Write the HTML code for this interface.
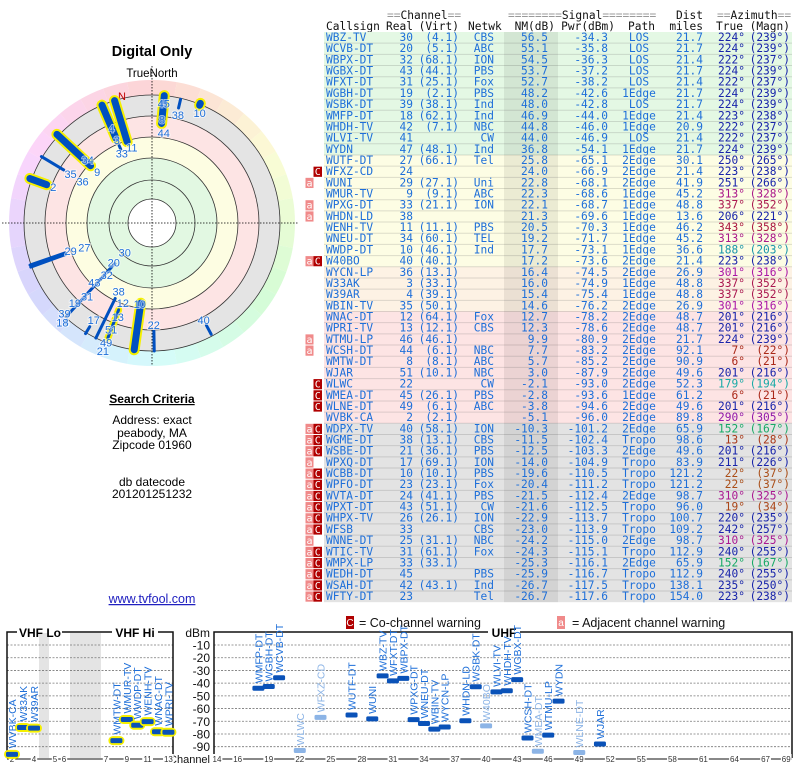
<!DOCTYPE html>
<html><head><meta charset="utf-8"><title>Digital Only - TV Fool report</title>
<style>
html,body{margin:0;padding:0;background:#fff;width:800px;height:768px;overflow:hidden}
svg{display:block}
.sans{font-family:"Liberation Sans",sans-serif}
.mono{font-family:"DejaVu Sans Mono","Liberation Mono",monospace;font-size:11.2px}
</style></head>
<body>
<svg id="root" width="800" height="768" viewBox="0 0 800 768" xmlns="http://www.w3.org/2000/svg">
  <g id="left" class="sans">
    <text x="152" y="56" text-anchor="middle" font-size="14.5" font-weight="bold">Digital Only</text>
    <text x="152" y="77" text-anchor="middle" font-size="11.5">TrueNorth</text>
    <g id="polar"></g>
    <text x="152" y="403" text-anchor="middle" font-size="12" font-weight="bold" text-decoration="underline">Search Criteria</text>
    <text x="152" y="424" text-anchor="middle" font-size="12">Address: exact</text>
    <text x="152" y="437" text-anchor="middle" font-size="12">peabody, MA</text>
    <text x="152" y="449" text-anchor="middle" font-size="12">Zipcode 01960</text>
    <text x="152" y="486" text-anchor="middle" font-size="12">db datecode</text>
    <text x="152" y="498" text-anchor="middle" font-size="12">201201251232</text>
    <text x="152" y="603" text-anchor="middle" font-size="12.5" fill="#2020c0" text-decoration="underline">www.tvfool.com</text>
  </g>
  <g id="table" class="mono"></g>
  <g id="bottom" class="sans"></g>
</svg>
<script>
// ---------- polar data ----------
const polAz   = [343, 337, 337, 313, 301, 290, 5.5, 13, 22, 250, 251, 222.5, 211, 206, 201, 188, 179, 152];
const polRin  = [85, 92, 80, 84, 103, 112, 100, 118, 127, 92, 92, 55, 121, 84, 93, 81, 108, 116];
const polRout = [128, 128, 84, 130, 129, 130, 128, 127, 129, 129, 129, 126, 129, 128, 123, 128, 128, 126];
const polThick= [1, 1, 0, 1, 0, 1, 1, 0, 1, 0, 0, 0, 0, 0, 0, 1, 0, 0];
const polHi   = [1, 1, 0, 1, 0, 1, 1, 0, 1, 0, 0, 0, 0, 0, 1, 1, 0, 0];
const polLabText = ["45","8","44","38","10","4","3","11","33","34","9","35","36","2","29","27","30","20","32","43","31","19","39","4","18","38","12","13","51","49","21","17","10","22","40"];
const polLabAz   = [5.6,5.5,7.4,13.5,23.4,336.8,337,345,336.6,314.5,313,301,301,290,251,250,223,224,221,224,221.5,224,224,221,222,206,200,200,201,201,201,211,188.6,179,152];
const polLabR    = [120,104,91,111,120,103,90,78,76,90,75,95,81,105,86,72,40,55,69,83,98,111,126,131,134,76,85,100,114,128,137,113,82,102,110];

// ---------- table data ----------
const tCall = ["WBZ-TV","WCVB-DT","WBPX-DT","WGBX-DT","WFXT-DT","WGBH-DT","WSBK-DT","WMFP-DT","WHDH-TV","WLVI-TV","WYDN","WUTF-DT","WFXZ-CD","WUNI","WMUR-TV","WPXG-DT","WHDN-LD","WENH-TV","WNEU-DT","WWDP-DT","W40BO","WYCN-LP","W33AK","W39AR","WBIN-TV","WNAC-DT","WPRI-TV","WTMU-LP","WCSH-DT","WMTW-DT","WJAR","WLWC","WMEA-DT","WLNE-DT","WVBK-CA","WDPX-TV","WGME-DT","WSBE-DT","WPXQ-DT","WCBB-DT","WPFO-DT","WVTA-DT","WPXT-DT","WHPX-TV","WFSB","WNNE-DT","WTIC-TV","WMPX-LP","WEDH-DT","WSAH-DT","WFTY-DT"];
const tReal = ["30","20","32","43","31","19","39","18","42","41","47","27","24","29","9","33","38","11","34","10","40","36","3","4","35","12","13","46","44","8","51","22","45","49","2","40","38","21","17","10","23","24","43","26","33","25","31","33","45","42","23"];
const tVirt = ["(4.1)","(5.1)","(68.1)","(44.1)","(25.1)","(2.1)","(38.1)","(62.1)","(7.1)","","(48.1)","(66.1)","","(27.1)","(9.1)","(21.1)","","(11.1)","(60.1)","(46.1)","(40.1)","(13.1)","(33.1)","(39.1)","(50.1)","(64.1)","(12.1)","(46.1)","(6.1)","(8.1)","(10.1)","","(26.1)","(6.1)","(2.1)","(58.1)","(13.1)","(36.1)","(69.1)","(10.1)","(23.1)","(41.1)","(51.1)","(26.1)","","(31.1)","(61.1)","(33.1)","","(43.1)",""];
const tNet  = ["CBS","ABC","ION","PBS","Fox","PBS","Ind","Ind","NBC","CW","Ind","Tel","","Uni","ABC","ION","","PBS","TEL","Ind","","","","","","Fox","CBS","","NBC","ABC","NBC","CW","PBS","ABC","","ION","CBS","PBS","ION","PBS","Fox","PBS","CW","ION","CBS","NBC","Fox","","PBS","Ind","Tel"];
const tNM   = ["56.5","55.1","54.5","53.7","52.7","48.2","48.0","46.9","44.8","44.0","36.8","25.8","24.0","22.8","22.3","22.1","21.3","20.5","19.2","17.7","17.2","16.4","16.0","15.4","14.6","12.7","12.3","9.9","7.7","5.7","3.0","-2.1","-2.8","-3.8","-5.1","-10.3","-11.5","-12.5","-14.0","-19.6","-20.4","-21.5","-21.6","-22.9","-23.0","-24.2","-24.3","-25.3","-25.9","-26.7","-26.7"];
const tPwr  = ["-34.3","-35.8","-36.3","-37.2","-38.2","-42.6","-42.8","-44.0","-46.0","-46.9","-54.1","-65.1","-66.9","-68.1","-68.6","-68.7","-69.6","-70.3","-71.7","-73.1","-73.6","-74.5","-74.9","-75.4","-76.2","-78.2","-78.6","-80.9","-83.2","-85.2","-87.9","-93.0","-93.6","-94.6","-96.0","-101.2","-102.4","-103.3","-104.9","-110.5","-111.2","-112.4","-112.5","-113.7","-113.9","-115.0","-115.1","-116.1","-116.7","-117.5","-117.6"];
const tPath = ["LOS","LOS","LOS","LOS","LOS","1Edge","LOS","1Edge","1Edge","LOS","1Edge","2Edge","2Edge","2Edge","1Edge","1Edge","1Edge","1Edge","1Edge","1Edge","2Edge","2Edge","1Edge","1Edge","2Edge","2Edge","2Edge","2Edge","2Edge","2Edge","2Edge","2Edge","1Edge","2Edge","2Edge","2Edge","Tropo","2Edge","Tropo","Tropo","Tropo","2Edge","Tropo","Tropo","Tropo","2Edge","Tropo","2Edge","Tropo","Tropo","Tropo"];
const tDist = ["21.7","21.7","21.4","21.7","21.4","21.7","21.7","21.4","20.9","21.4","21.7","30.1","21.4","41.9","45.2","48.8","13.6","46.2","45.2","36.6","21.4","26.9","48.8","48.8","26.9","48.7","48.7","21.7","92.1","90.9","49.6","52.3","61.2","49.6","89.8","65.9","98.6","49.6","83.9","121.2","121.2","98.7","96.0","100.7","109.2","98.7","112.9","65.9","112.9","138.1","154.0"];
const tTrue = [224,224,222,224,222,224,224,223,222,222,224,250,223,251,313,337,206,343,313,188,223,301,337,337,301,201,201,224,7,6,201,179,6,201,290,152,13,201,211,22,22,310,19,220,242,310,240,152,240,235,223];
const tWarn = ["","","","","","","","","","","","","C","a","","a","a","","","","aC","","","","","","","a","a","","","C","C","C","","aC","aC","aC","a","aC","aC","aC","aC","aC","aC","a","aC","aC","aC","aC","aC"];
const tBand = [0,0,0,0,0,0,0,0,0,0,0,1,1,1,1,1,1,1,1,1,1,2,2,2,2,3,3,3,3,3,3,3,3,3,3,4,4,4,4,4,4,4,4,4,4,4,4,4,4,4,4];

// ---------- bottom chart data ----------
const vCalls = ["WVBK-CA","W33AK","W39AR","WMTW-DT","WMUR-TV","WWDP-DT","WENH-TV","WNAC-DT","WPRI-TV"];
const vChan  = [2,3,4,8,9,10,11,12,13];
const vPwr   = [-96.0,-74.9,-75.4,-85.2,-68.6,-73.1,-70.3,-78.2,-78.6];
const uCalls = ["WMFP-DT","WGBH-DT","WCVB-DT","WLWC","WFXZ-CD","WUTF-DT","WUNI","WBZ-TV","WFXT-DT","WBPX-DT","WPXG-DT","WNEU-DT","WBIN-TV","WYCN-LP","WHDN-LD","WSBK-DT","W40BO","WLVI-TV","WHDH-TV","WGBX-DT","WCSH-DT","WMEA-DT","WTMU-LP","WYDN","WLNE-DT","WJAR"];
const uChan  = [18,19,20,22,24,27,29,30,31,32,33,34,35,36,38,39,40,41,42,43,44,45,46,47,49,51];
const uPwr   = [-44.0,-42.6,-35.8,-93.0,-66.9,-65.1,-68.1,-34.3,-38.2,-36.3,-68.7,-71.7,-76.2,-74.5,-69.6,-42.8,-73.6,-46.9,-46.0,-37.2,-83.2,-93.6,-80.9,-54.1,-94.6,-87.9];
const uFaded = [0,0,0,1,1,0,0,0,0,0,0,0,0,0,0,0,1,0,0,0,0,1,0,0,1,0];
const dbTicks = [-10,-20,-30,-40,-50,-60,-70,-80,-90];
const vTickChan = [2,4,5,6,7,9,11,13];
const uTickChan = [14,16,19,22,25,28,31,34,37,40,43,46,49,52,55,58,61,64,67,69];

const NS = "http://www.w3.org/2000/svg";
function mk(parent, tag, attrs, text){
  const e = document.createElementNS(NS, tag);
  for (const k in attrs) e.setAttribute(k, attrs[k]);
  if (text !== undefined) e.textContent = text;
  parent.appendChild(e);
  return e;
}

// ================= POLAR =================
const polar = document.getElementById('polar');
const CX = 152, CY = 223;
function pxy(az, r){ const a = az*Math.PI/180; return [CX + r*Math.sin(a), CY - r*Math.cos(a)]; }
for (let i=0;i<36;i++){
  const a0=i*10, a1=a0+10;
  const p0=pxy(a0,143), p1=pxy(a1,143), p2=pxy(a1,128), p3=pxy(a0,128);
  const seg = mk(polar,'path',{d:`M${p0[0]},${p0[1]} A143,143 0 0 1 ${p1[0]},${p1[1]} L${p2[0]},${p2[1]} A128,128 0 0 0 ${p3[0]},${p3[1]} Z`, fill:`hsl(${a0+5},85%,91%)`, stroke:'none'});
  
  
}
const bandR = [128,107,86,65,24];
const bandC = ['#e4e4e4','#fde4e4','#fdfde2','#e2f8e2','#ffffff'];
for (let i=0;i<bandR.length;i++){
  const c = mk(polar,'circle',{cx:CX,cy:CY,r:bandR[i],fill:bandC[i],stroke:'none'});
  
  
}
[128,107,86,65,43,24].forEach(r=>{
  const c = mk(polar,'circle',{cx:CX,cy:CY,r:r,fill:'none',stroke:'#333','stroke-width':0.8});
  
  
});
let ax = mk(polar,'line',{x1:2,y1:CY,x2:298,y2:CY,stroke:'#000','stroke-width':0.8,'stroke-dasharray':'1.5,1.5'});


ax = mk(polar,'line',{x1:CX,y1:66,x2:CX,y2:366,stroke:'#000','stroke-width':0.8,'stroke-dasharray':'1.5,1.5'});


const nLab = mk(polar,'text',{x:122,y:100,'text-anchor':'middle','font-size':11,fill:'#c00000'},'N');


for (let i=0;i<polAz.length;i++){
  const a = pxy(polAz[i], polRin[i]), b = pxy(polAz[i], polRout[i]);
  const w = polThick[i] ? 7 : 3;
  if (polHi[i]){
    const h = mk(polar,'line',{x1:a[0],y1:a[1],x2:b[0],y2:b[1],stroke:'#f5f000','stroke-width':w+4,'stroke-linecap':'round'});
    
    
  }
  const l = mk(polar,'line',{x1:a[0],y1:a[1],x2:b[0],y2:b[1],stroke:'#0050c0','stroke-width':w,'stroke-linecap':'round'});
  
  
}
for (let i=0;i<polLabText.length;i++){
  const p = pxy(polLabAz[i], polLabR[i]);
  const t = mk(polar,'text',{x:p[0],y:p[1]+4,'text-anchor':'middle','font-size':11,fill:'#1e6fd9',stroke:'#fff','stroke-width':2,'stroke-opacity':0.6,'paint-order':'stroke'},polLabText[i]);
  
  
}

// ================= TABLE =================
const tbl = document.getElementById('table');
const ROW0 = 32, RH = 11.18;
const bandFill = ['#e4f8e4','#fdfde4','#fdf2e4','#fde4e4','#e3e3e3'];
function hdr(x,y,parts,anchor){
  const t = mk(tbl,'text',{x:x,y:y,'text-anchor':anchor||'start',fill:'#111'});
  parts.forEach(p=>{ mk(t,'tspan',{fill:p[1]?'#999':'#111'},p[0]); });
  return t;
}
let h;
h = hdr(387,19,[["==",1],["Channel",0],["==",1]]);  
h = hdr(508,19,[["========",1],["Signal",0],["========",1]]);  
h = hdr(703,19,[["Dist",0]],'end');  
h = hdr(717,19,[["==",1],["Azimuth",0],["==",1]]);  
const h2 = [["Callsign",326,'start'],["Real",413,'end'],["(Virt)",459,'end'],["Netwk",468,'start'],["NM(dB)",555,'end'],["Pwr(dBm)",615,'end'],["Path",655,'end'],["miles",703,'end'],["True",743,'end'],["(Magn)",790,'end']];
h2.forEach(c=>{ const t = hdr(c[1],30,[[c[0],0]],c[2]);   });

for (let i=0;i<tCall.length;i++){
  const y = ROW0 + i*RH;
  const r = mk(tbl,'rect',{x:324,y:y,width:468,height:RH,fill:bandFill[tBand[i]]});
  
  
}
const nmCol = mk(tbl,'rect',{x:504,y:ROW0,width:54,height:RH*tCall.length,fill:'rgba(0,0,0,0.07)'});


for (let i=1;i<tCall.length;i++){
  const y = ROW0 + i*RH;
  const l = mk(tbl,'line',{x1:324,y1:y,x2:792,y2:y,stroke:'rgba(0,0,0,0.13)','stroke-width':1});
  
  
}
function azColor(az){
  let hue = az; if (az>195 && az<260) hue = 235;
  return `hsl(${hue},75%,38%)`;
}
for (let i=0;i<tCall.length;i++){
  const yb = ROW0 + i*RH + 9;
  const rowG = mk(tbl,'g',{});
  
  
  const col = '#1e6fd9';
  const cells = [[tCall[i],326,'start'],[tReal[i],413,'end'],[tVirt[i],459,'end'],[tNet[i],494,'end'],[tNM[i],548,'end'],[tPwr[i],608,'end'],[tPath[i],639,'middle'],[tDist[i],703,'end']];
  cells.forEach(c=>{ if (c[0]!=="") mk(rowG,'text',{x:c[1],y:yb,'text-anchor':c[2],fill:col},c[0]); });
  const m = (tTrue[i]+15)%360;
  mk(rowG,'text',{x:745,y:yb,'text-anchor':'end',fill:azColor(tTrue[i])},tTrue[i]+'°');
  mk(rowG,'text',{x:790,y:yb,'text-anchor':'end',fill:azColor(tTrue[i])},'('+m+'°)');
  const w = tWarn[i];
  if (w.indexOf('a')>=0){
    const b = mk(tbl,'rect',{x:305.5,y:ROW0+i*RH+0.5,width:8,height:RH-1,fill:'#f08a8a'});
    
    
    mk(tbl,'text',{x:309.5,y:yb,'text-anchor':'middle',fill:'#fff','font-size':10},'a');
  }
  if (w.indexOf('C')>=0){
    const b = mk(tbl,'rect',{x:313.5,y:ROW0+i*RH+0.5,width:8.5,height:RH-1,fill:'#b00000'});
    
    
    mk(tbl,'text',{x:317.8,y:yb,'text-anchor':'middle',fill:'#fff','font-size':10},'C');
  }
}

// ================= BOTTOM CHART =================
const bt = document.getElementById('bottom');
function yDb(db){ return 645 + (-10 - db)*1.2713; }
function xV(ch){ return ch<=4 ? 12 + (ch-2)*11 : (ch===5 ? 55 : (ch===6 ? 64 : 106 + (ch-7)*10.4)); }
function xU(ch){ return 217 + (ch-14)*10.35; }

let lg = mk(bt,'rect',{x:346,y:616,width:8,height:13,fill:'#b00000'});
 
mk(bt,'text',{x:350,y:626,'text-anchor':'middle',fill:'#fff','font-size':10},'C');
lg = mk(bt,'text',{x:359,y:627,'font-size':12.5,fill:'#111'},'= Co-channel warning');
 
lg = mk(bt,'rect',{x:557,y:616,width:8,height:13,fill:'#f08a8a'});
 
mk(bt,'text',{x:561,y:626,'text-anchor':'middle',fill:'#fff','font-size':10},'a');
lg = mk(bt,'text',{x:572,y:627,'font-size':12.5,fill:'#111'},'= Adjacent channel warning');
 

let s = mk(bt,'rect',{x:39,y:633,width:10,height:125,fill:'#e4e4e4'});  
s = mk(bt,'rect',{x:70,y:633,width:31,height:125,fill:'#e4e4e4'});  

dbTicks.forEach(d=>{
  const y = yDb(d);
  let g = mk(bt,'line',{x1:7,y1:y,x2:173,y2:y,stroke:'#777','stroke-width':0.8,'stroke-dasharray':'2,1.5'});
   
  g = mk(bt,'line',{x1:214,y1:y,x2:792,y2:y,stroke:'#777','stroke-width':0.8,'stroke-dasharray':'2,1.5'});
   
  const t = mk(bt,'text',{x:210,y:y+4.5,'text-anchor':'end','font-size':12,fill:'#111'},String(d));
   
});
let yt = mk(bt,'text',{x:210,y:637,'text-anchor':'end','font-size':12,fill:'#111'},'dBm');
 
yt = mk(bt,'text',{x:210,y:763,'text-anchor':'end','font-size':11,fill:'#111'},'Channel');
 

const fr = [
  ['M7,758 L7,632 L17,632','vhf-frame-left'],['M62,632 L112,632','vhf-frame-top'],['M158,632 L173,632 L173,758','vhf-frame-right'],
  ['M214,758 L214,632 L488,632','uhf-frame-left'],['M520,632 L792,632 L792,758','uhf-frame-right']
];
fr.forEach(f=>{ const p = mk(bt,'path',{d:f[0],fill:'none',stroke:'#111','stroke-width':1.5});   });
let tt = mk(bt,'text',{x:40,y:637,'text-anchor':'middle','font-size':12,'font-weight':'bold'},'VHF Lo');  
tt = mk(bt,'text',{x:135,y:637,'text-anchor':'middle','font-size':12,'font-weight':'bold'},'VHF Hi');  
tt = mk(bt,'text',{x:504,y:637,'text-anchor':'middle','font-size':12,'font-weight':'bold'},'UHF');  

let al = mk(bt,'line',{x1:7,y1:759,x2:173,y2:759,stroke:'#111','stroke-width':1});  
al = mk(bt,'line',{x1:214,y1:759,x2:792,y2:759,stroke:'#111','stroke-width':1});  
function tick(x, label){
  const w = label.length*4.4+2;
  mk(bt,'rect',{x:x-w/2,y:754,width:w,height:10,fill:'#fff'});
  const t = mk(bt,'text',{x:x,y:762,'text-anchor':'middle','font-size':8,fill:'#333'},label);
  
  
}
vTickChan.forEach(c=>tick(xV(c), String(c)));
uTickChan.forEach(c=>tick(xU(c), String(c)));

function mark(x, y, call, faded, hi){
  if (hi){
    const o = mk(bt,'rect',{x:x-8,y:y-4.5,width:16,height:9,rx:4.5,fill:'#f5f000'});
    
    
  }
  const r = mk(bt,'rect',{x:x-6,y:y-2.5,width:12,height:5,rx:1.5,fill:faded?'#8cb4e6':'#0a52b8'});
  
  
  const ty = y-(hi?6:5);
  const t = mk(bt,'text',{x:x+4,y:ty,'font-size':10.5,fill:faded?'#8cb4e6':'#1e6fd9',transform:`rotate(-90 ${x+4} ${ty})`},call);
  
  
}
for (let i=0;i<vCalls.length;i++) mark(xV(vChan[i]), yDb(vPwr[i]), vCalls[i], 0, 1);
for (let i=0;i<uCalls.length;i++) mark(xU(uChan[i]), yDb(uPwr[i]), uCalls[i], uFaded[i], 0);
</script>
</body></html>
